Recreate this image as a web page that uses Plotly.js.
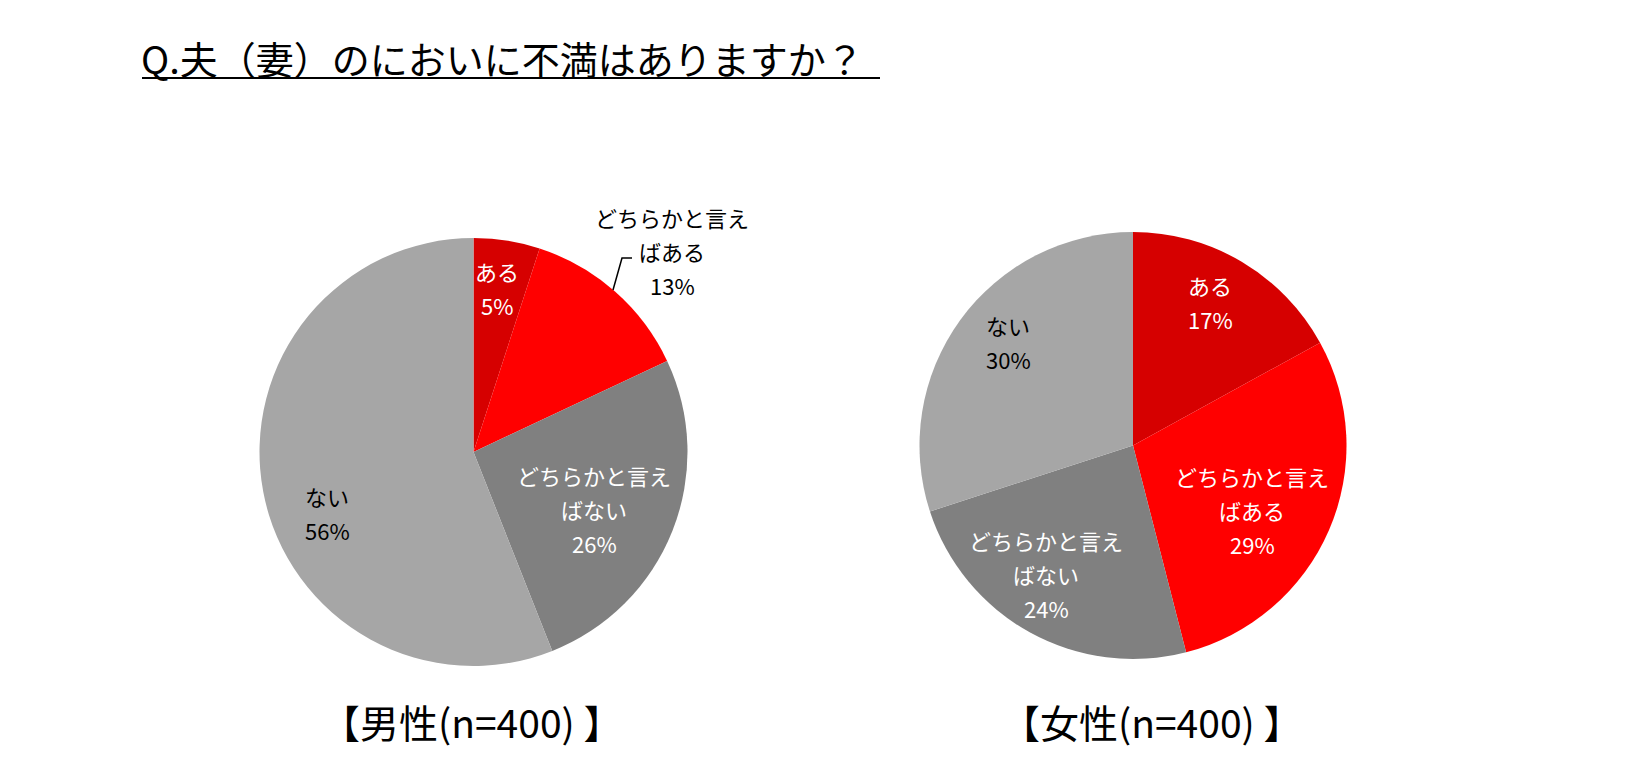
<!DOCTYPE html>
<html><head><meta charset="utf-8">
<script src="https://cdn.plot.ly/plotly-3.0.1.min.js"></script>
<style>html,body{margin:0;padding:0;background:#fff}#chart{width:1625px;height:771px}</style>
</head><body><div id="chart"></div>
<script>
// ---- data ----
const categories = ['ある','どちらかと言えばある','どちらかと言えばない','ない'];
const labelLines = [['ある'],['どちらかと言え','ばある'],['どちらかと言え','ばない'],['ない']];
const maleValues = [5,13,26,56];
const femaleValues = [17,29,24,30];
const groupTitles = ['【男性(n=400) 】','【女性(n=400) 】'];
const chartTitle = 'Q.夫（妻）のにおいに不満はありますか？';

// ---- styles / layout ----
const W = 1625, H = 771;
const sliceColors = ['#D60000','#FF0000','#808080','#A6A6A6'];
const maleTextColors = ['#ffffff','#000000','#ffffff','#000000'];
const femaleTextColors = ['#ffffff','#ffffff','#ffffff','#000000'];
const maleLabelPos = [[497,288],[672,251],[594,509],[327,513]];
const femaleLabelPos = [[1210,302],[1252,510],[1046,574],[1008,342]];
const groupTitlePos = [[471,721],[1151,721]];
const FONT = '"Noto Sans CJK JP", "Noto Sans", sans-serif';
const LINE = 34;

const px = x => x / W;
const py = y => 1 - y / H;

function pieTrace(values, dom) {
  return {
    type: 'pie', labels: categories, values: values, sort: false,
    direction: 'clockwise', rotation: 0, textinfo: 'none', hoverinfo: 'label+percent',
    marker: {colors: sliceColors, line: {color: '#ffffff', width: 0}},
    domain: dom, showlegend: false
  };
}

const traces = [
  pieTrace(maleValues, {x: [px(259), px(688)], y: [py(666), py(238)]}),
  pieTrace(femaleValues, {x: [px(919), px(1347)], y: [py(659), py(232)]})
];

const annotations = [];
function addLabels(values, pos, colors) {
  const total = values.reduce((a, b) => a + b, 0);
  values.forEach((v, i) => {
    const lines = labelLines[i].concat([Math.round(v / total * 100) + '%']);
    const n = lines.length;
    lines.forEach((t, j) => {
      annotations.push({
        xref: 'paper', yref: 'paper', showarrow: false,
        x: px(pos[i][0]), y: py(pos[i][1] + (j - (n - 1) / 2) * LINE),
        xanchor: 'center', yanchor: 'middle', text: t,
        font: {family: FONT, size: 22, color: colors[i]}
      });
    });
  });
}
addLabels(maleValues, maleLabelPos, maleTextColors);
addLabels(femaleValues, femaleLabelPos, femaleTextColors);

groupTitles.forEach((t, i) => {
  annotations.push({
    xref: 'paper', yref: 'paper', showarrow: false,
    x: px(groupTitlePos[i][0]), y: py(groupTitlePos[i][1]),
    xanchor: 'center', yanchor: 'middle', text: t,
    font: {family: FONT, size: 39, color: '#000'}
  });
});

annotations.push({
  xref: 'paper', yref: 'paper', showarrow: false,
  x: px(139), y: py(58), xanchor: 'left', yanchor: 'middle', text: chartTitle,
  font: {family: FONT, size: 38, color: '#000'}
});

const shapes = [
  {type: 'line', xref: 'paper', yref: 'paper', x0: px(142), x1: px(880), y0: py(78), y1: py(78),
   line: {color: '#000', width: 2}},
  {type: 'path', xref: 'paper', yref: 'paper',
   path: `M ${px(632)} ${py(258)} L ${px(622)} ${py(258)} L ${px(613)} ${py(290)}`,
   line: {color: '#000', width: 1.5}}
];

const layout = {
  width: W, height: H, margin: {l: 0, r: 0, t: 0, b: 0},
  paper_bgcolor: '#fff', plot_bgcolor: '#fff', showlegend: false,
  annotations: annotations, shapes: shapes, font: {family: FONT}
};

Plotly.newPlot('chart', traces, layout, {staticPlot: true, displayModeBar: false});
</script></body></html>
